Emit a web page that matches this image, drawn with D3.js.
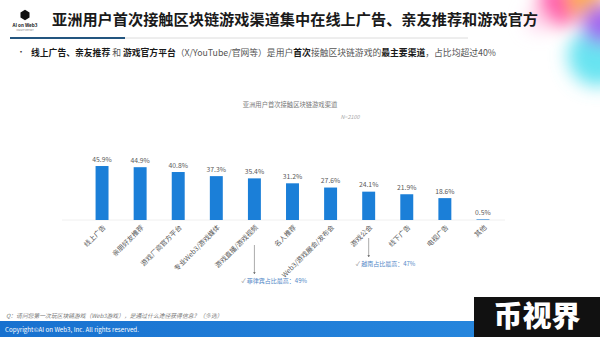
<!DOCTYPE html>
<html>
<head>
<meta charset="utf-8">
<script src="https://cdn.jsdelivr.net/npm/d3@7"></script>
<style>
  html, body { margin: 0; padding: 0; background: #fff; }
  svg { display: block; font-family: "Noto Sans CJK SC", "Noto Sans", sans-serif; }
</style>
</head>
<body>
<svg id="chart" width="600" height="337"></svg>
<script>
// Channels through which users first heard about blockchain games
const categories = ["线上广告", "亲朋好友推荐", "游戏厂商官方平台", "专业Web3/游戏媒体", "游戏直播/游戏视频",
  "名人推荐", "Web3/游戏展会/发布会", "游戏公会", "线下广告", "电视广告", "其他"];
const shares = [45.9, 44.9, 40.8, 37.3, 35.4, 31.2, 27.6, 24.1, 21.9, 18.6, 0.5];
const notes = [
  { category: "游戏直播/游戏视频", text: "菲律宾占比最高：49%" },
  { category: "游戏公会", text: "越南占比最高：47%" }
];

const svg = d3.select("#chart");
const defs = svg.append("defs");

// colourful corner decoration
const blur = defs.append("filter").attr("id", "soft").attr("x", "-50%").attr("y", "-50%").attr("width", "200%").attr("height", "200%");
blur.append("feGaussianBlur").attr("stdDeviation", 9);
const corner = svg.append("g").attr("filter", "url(#soft)");
[
  { cx: 598, cy: 56, r: 30, c: "#5fe3f0" },
  { cx: 560, cy: 4, r: 22, c: "#ff4fa8" },
  { cx: 586, cy: -2, r: 20, c: "#ffb043" },
  { cx: 602, cy: 24, r: 20, c: "#9f5ff0" },
  { cx: 538, cy: 20, r: 11, c: "#ffd1ec" }
].forEach(b => corner.append("circle").attr("cx", b.cx).attr("cy", b.cy).attr("r", b.r).attr("fill", b.c).attr("opacity", 0.95));

// logo
const logo = svg.append("g");
logo.append("path")
  .attr("d", d3.line()(d3.range(6).map(i => {
    const a = Math.PI / 3 * i + Math.PI / 6;
    return [25 + 5.2 * Math.cos(a), 15 + 5.2 * Math.sin(a)];
  })) + "Z")
  .attr("fill", "#111");
logo.append("text").attr("x", 25).attr("y", 27).attr("text-anchor", "middle")
  .attr("font-size", 4.6).attr("font-weight", 700).attr("fill", "#222").text("AI on Web3");
logo.append("text").attr("x", 25).attr("y", 31).attr("text-anchor", "middle")
  .attr("font-size", 2.2).attr("fill", "#777").text("INSIGHT REPORT");

// headline
svg.append("text").attr("x", 52).attr("y", 25)
  .attr("font-size", 15.2).attr("font-weight", 700).attr("fill", "#1a1a1a")
  .text("亚洲用户首次接触区块链游戏渠道集中在线上广告、亲友推荐和游戏官方");
svg.append("line").attr("x1", 125).attr("x2", 468).attr("y1", 38).attr("y2", 38)
  .attr("stroke", "#dcdcdc").attr("stroke-width", 1);
svg.append("line").attr("x1", 10).attr("x2", 125).attr("y1", 38).attr("y2", 38)
  .attr("stroke", "#23557f").attr("stroke-width", 2);

// key finding
svg.append("text").attr("x", 17).attr("y", 55).attr("font-size", 8).attr("fill", "#333").text("•");
const lead = svg.append("text").attr("x", 31).attr("y", 55.5).attr("font-size", 8.8).attr("fill", "#555");
[
  ["线上广告、亲友推荐", true], [" 和 ", false], ["游戏官方平台", true],
  ["（X/YouTube/官网等）是用户", false], ["首次", true], ["接触区块链游戏的", false],
  ["最主要渠道", true], ["，占比均超过40%", false]
].forEach(([t, b]) => lead.append("tspan")
  .attr("font-weight", b ? 700 : 400).attr("fill", b ? "#1a1a1a" : "#555").text(t));

// chart
const x = d3.scaleBand().domain(categories).range([83, 502]).paddingInner(0.66).paddingOuter(0.33);
const y = d3.scaleLinear().domain([0, 50]).range([220, 161.2]);

svg.append("text").attr("x", 290).attr("y", 107).attr("text-anchor", "middle")
  .attr("font-size", 6.3).attr("fill", "#777").text("亚洲用户首次接触区块链游戏渠道");
svg.append("text").attr("x", 350).attr("y", 119).attr("text-anchor", "middle")
  .attr("font-size", 5.5).attr("font-style", "italic").attr("fill", "#aaa").text("N=2100");

svg.append("line").attr("x1", 62).attr("x2", 505).attr("y1", y(0)).attr("y2", y(0))
  .attr("stroke", "#f0f0f0").attr("stroke-width", 1);

const data = categories.map((c, i) => ({ c, v: shares[i] }));

svg.append("g").selectAll("rect").data(data).join("rect")
  .attr("x", d => x(d.c)).attr("width", x.bandwidth())
  .attr("y", d => y(d.v)).attr("height", d => y(0) - y(d.v))
  .attr("fill", "#1b7fd8");

svg.append("g").selectAll("text").data(data).join("text")
  .attr("x", d => x(d.c) + x.bandwidth() / 2).attr("y", d => y(d.v) - 4.5)
  .attr("text-anchor", "middle").attr("font-size", 6.8).attr("fill", "#595959")
  .text(d => d.v.toFixed(1) + "%");

const xAxis = svg.append("g").attr("transform", `translate(0,${y(0)})`)
  .call(d3.axisBottom(x).tickSize(0).tickPadding(0));
xAxis.select(".domain").remove();
xAxis.selectAll("text")
  .attr("font-family", "'Noto Sans CJK SC', sans-serif")
  .attr("font-size", 6.8).attr("fill", "#595959")
  .attr("text-anchor", "end")
  .attr("dy", 0)
  .attr("transform", "translate(4,8) rotate(-45)");

// callouts
defs.append("marker").attr("id", "arrow").attr("viewBox", "0 0 6 6").attr("refX", 5).attr("refY", 3)
  .attr("markerWidth", 4).attr("markerHeight", 4).attr("orient", "auto")
  .append("path").attr("d", "M0,0L6,3L0,6Z").attr("fill", "#777");

const noteLayout = [
  { y1: 245, y2: 274, ty: 283 },
  { y1: 238, y2: 257, ty: 266 }
];
notes.forEach((n, i) => {
  const cx = x(n.category) + x.bandwidth() / 2;
  const L = noteLayout[i];
  svg.append("line").attr("x1", cx).attr("x2", cx).attr("y1", L.y1).attr("y2", L.y2)
    .attr("stroke", "#888").attr("stroke-width", 0.7).attr("marker-end", "url(#arrow)");
  const t = svg.append("text").attr("x", cx - 13).attr("y", L.ty).attr("font-size", 6);
  t.append("tspan").attr("fill", "#888").text("✓  ");
  t.append("tspan").attr("fill", "#4f86c6").text(n.text);
});

// survey question
svg.append("text").attr("x", 6).attr("y", 318).attr("font-size", 5.8)
  .attr("font-style", "italic").attr("fill", "#777")
  .text("Q：请问您第一次玩区块链游戏（Web3游戏），是通过什么途径获得信息？（多选）");

// footer band
const fg = defs.append("linearGradient").attr("id", "footer").attr("x1", 0).attr("x2", 1);
fg.append("stop").attr("offset", 0).attr("stop-color", "#1871cf");
fg.append("stop").attr("offset", 1).attr("stop-color", "#2a8be0");
svg.append("rect").attr("x", 0).attr("y", 321).attr("width", 600).attr("height", 16).attr("fill", "url(#footer)");
svg.append("text").attr("x", 5).attr("y", 331.5).attr("font-size", 6.2).attr("fill", "#fff")
  .text("Copyright©AI on Web3, Inc. All rights reserved.");

// watermark
svg.append("rect").attr("x", 474).attr("y", 297).attr("width", 126).attr("height", 40).attr("fill", "#111");
svg.append("text").attr("x", 537).attr("y", 327).attr("text-anchor", "middle")
  .attr("font-size", 29).attr("font-weight", 900).attr("fill", "#fff").text("币视界");
</script>
</body>
</html>
